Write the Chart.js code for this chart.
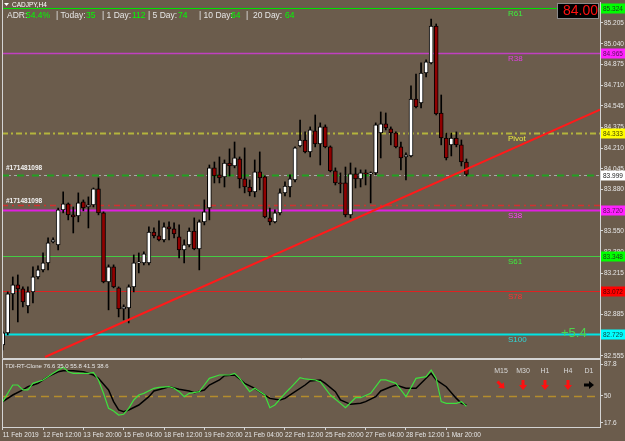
<!DOCTYPE html>
<html>
<head>
<meta charset="utf-8">
<title>CADJPY,H4</title>
<script src="https://cdn.jsdelivr.net/npm/chart.js@4.4.1/dist/chart.umd.min.js"></script>
<style>
  html, body { margin: 0; padding: 0; background: #6b5c4c; }
  #wrap { position: relative; width: 625px; height: 441px; overflow: hidden; background: #6b5c4c; }
  canvas { position: absolute; left: 0; }
  #price { top: 0; }
  #tdi { top: 358px; }
</style>
</head>
<body>
<div id="wrap">
  <canvas id="price" width="625" height="359"></canvas>
  <canvas id="tdi" width="625" height="83"></canvas>
</div>
<script>
// CADJPY H4 candles, 11 Feb 2019 -> 4 Mar 2019
const candleOpen = [
  82.644, 82.739, 83.049, 83.121, 83.089, 82.954, 83.065, 83.184, 83.240, 83.296,
  83.463, 83.439, 83.718, 83.765, 83.678, 83.670, 83.781, 83.741, 83.757, 83.885,
  83.694, 83.145, 83.264, 83.097, 82.930, 82.938, 83.105, 83.296, 83.296, 83.296,
  83.542, 83.511, 83.479, 83.582, 83.566, 83.503, 83.400, 83.439, 83.550, 83.408,
  83.622, 83.733, 84.052, 83.996, 83.980, 84.091, 84.067, 84.123, 83.964, 83.900,
  83.861, 84.020, 83.980, 83.654, 83.622, 83.694, 83.853, 83.900, 83.956, 84.227,
  84.274, 84.179, 84.346, 84.243, 84.378, 84.219, 84.028, 83.932, 83.932, 83.678,
  84.004, 83.964, 84.012, 84.004, 84.012, 84.330, 84.402, 84.362, 84.330, 84.219,
  84.139, 84.147, 84.600, 84.569, 84.807, 84.887, 85.181, 84.489, 84.290, 84.235,
  84.290, 84.235, 84.099
];
const candleHigh = [
  82.747, 83.065, 83.184, 83.200, 83.105, 83.105, 83.264, 83.272, 83.375, 83.495,
  83.495, 83.733, 83.861, 83.773, 83.741, 83.853, 83.797, 83.821, 83.892, 83.972,
  83.702, 83.280, 83.280, 83.105, 82.962, 83.121, 83.359, 83.375, 83.383, 83.582,
  83.574, 83.630, 83.614, 83.622, 83.614, 83.598, 83.479, 83.574, 83.654, 83.638,
  83.797, 84.075, 84.099, 84.139, 84.115, 84.203, 84.258, 84.139, 84.211, 83.956,
  84.115, 84.179, 83.988, 83.733, 83.718, 83.885, 83.940, 83.996, 84.219, 84.433,
  84.338, 84.378, 84.473, 84.410, 84.394, 84.227, 84.052, 84.012, 84.059, 84.091,
  84.052, 84.036, 84.036, 84.020, 84.410, 84.497, 84.489, 84.378, 84.338, 84.258,
  84.171, 84.704, 84.799, 84.887, 84.911, 85.237, 85.197, 84.632, 84.330, 84.330,
  84.338, 84.274, 84.123
];
const candleLow = [
  82.604, 82.723, 82.922, 82.826, 82.946, 82.898, 82.978, 83.169, 83.224, 83.240,
  83.455, 83.400, 83.694, 83.638, 83.534, 83.622, 83.710, 83.574, 83.741, 83.678,
  83.137, 82.922, 83.097, 82.866, 82.842, 82.818, 83.065, 83.216, 83.280, 83.280,
  83.495, 83.471, 83.463, 83.479, 83.495, 83.336, 83.296, 83.423, 83.400, 83.240,
  83.598, 83.638, 83.932, 83.932, 83.900, 83.988, 84.052, 83.892, 83.853, 83.829,
  83.821, 83.877, 83.654, 83.598, 83.614, 83.678, 83.829, 83.821, 83.940, 84.219,
  84.171, 84.139, 84.219, 84.075, 84.211, 84.020, 83.916, 83.853, 83.662, 83.654,
  83.892, 83.900, 83.916, 83.773, 83.996, 84.131, 84.354, 84.235, 84.211, 84.036,
  83.956, 84.139, 84.529, 84.529, 84.775, 84.880, 84.473, 84.235, 84.115, 84.147,
  84.219, 84.067, 83.988
];
const candleClose = [
  82.739, 83.049, 83.121, 83.089, 82.986, 83.065, 83.184, 83.240, 83.296, 83.455,
  83.479, 83.718, 83.765, 83.678, 83.662, 83.773, 83.733, 83.757, 83.885, 83.694,
  83.145, 83.264, 83.105, 82.930, 82.946, 83.105, 83.296, 83.304, 83.367, 83.542,
  83.511, 83.479, 83.582, 83.566, 83.527, 83.400, 83.439, 83.550, 83.408, 83.622,
  83.702, 84.052, 83.988, 83.972, 84.091, 84.067, 84.131, 83.964, 83.900, 83.861,
  84.020, 83.972, 83.662, 83.622, 83.694, 83.853, 83.908, 83.964, 84.211, 84.274,
  84.179, 84.354, 84.243, 84.378, 84.219, 84.028, 83.932, 83.924, 83.678, 84.004,
  83.964, 84.012, 84.004, 84.012, 84.394, 84.402, 84.370, 84.330, 84.219, 84.131,
  84.155, 84.600, 84.537, 84.807, 84.895, 85.181, 84.481, 84.290, 84.131, 84.290,
  84.235, 84.099, 83.999
];

// price axis labels
const priceTicks = [85.205, 85.040, 84.875, 84.710, 84.545, 84.375, 84.210, 84.045, 83.880,
  83.715, 83.550, 83.380, 83.215, 83.050, 82.885, 82.720, 82.555];

// pivot levels
const pivotNames = ['R61', 'R38', 'Pivot', 'S38', 'S61', 'S78', 'S100'];
const pivotPrices = [85.324, 84.965, 84.333, 83.720, 83.348, 83.072, 82.729];

// open orders + current bid
const orderTickets = ['#171481098', '#171481098'];
const orderPrices = [83.999, 83.757];
const bidPrice = 83.999;

// trend line anchors (bar, price)
const trendBars = [8.4, 118.5];
const trendPrices = [82.547, 84.515];

// ADR panel
const adrLabels = ['ADR:', '| Today:', '| 1 Day:', '| 5 Day:', '| 10 Day:', '|  20 Day:'];
const adrValues = ['54.4%', '35', '112', '74', '64', '64'];
const dayChange = '+5.4';

// time axis
const timeTickBars = [0, 8, 16, 24, 32, 40, 48, 56, 64, 72, 80, 88];
const timeLabels = ['11 Feb 2019', '12 Feb 12:00', '13 Feb 20:00', '15 Feb 04:00', '18 Feb 12:00',
  '19 Feb 20:00', '21 Feb 04:00', '22 Feb 12:00', '25 Feb 20:00', '27 Feb 04:00',
  '28 Feb 12:00', '1 Mar 20:00'];

// TDI sub window
const tdiHeader = 'TDI-RT-Clone 76.6 35.0 55.8 41.5 38.6';
const tdiTicks = [17.6, 50, 87.8];
const tdiGreenBars = [0, 2, 3, 4, 5, 6, 8, 10, 12, 13, 14, 17, 18, 19, 20, 21, 22, 23, 24, 25,
  26, 27, 28, 30, 31, 33, 34, 35, 36, 37, 39, 40, 41, 43, 45, 46, 47, 49, 50, 52,
  53, 54, 56, 57, 59, 60, 62, 63, 65, 67, 68, 70, 71, 73, 75, 76, 78, 79, 80, 82,
  84, 85, 86, 87, 88, 90, 91, 92];
const tdiGreenVals = [43.0, 62.8, 62.8, 56.9, 56.9, 64.8, 68.8, 76.7, 83.9, 78.6, 76.7, 76.7, 77.9, 68.8, 53.0, 35.1, 31.9, 27.1, 28.0, 35.1,
  45.0, 50.9, 52.9, 58.9, 60.0, 60.8, 58.9, 54.9, 48.9, 52.9, 54.9, 62.8, 70.7, 74.7, 74.7, 76.7, 70.7, 54.9, 58.9, 50.9,
  35.8, 39.0, 52.9, 58.9, 71.5, 70.0, 68.8, 66.8, 50.9, 41.0, 35.8, 47.7, 47.7, 52.9, 68.8, 68.8, 64.8, 56.9, 48.9, 70.7,
  72.7, 80.7, 70.7, 43.0, 41.0, 41.0, 43.0, 37.5];
const tdiSignalBars = [0, 2, 4, 5, 7, 9, 11, 12, 14, 16, 17, 18, 19, 21, 22, 23, 24, 25, 27, 29,
  30, 32, 33, 35, 37, 38, 40, 41, 43, 44, 46, 47, 48, 50, 52, 53, 55, 56, 58, 60,
  61, 63, 64, 66, 67, 69, 71, 72, 74, 75, 77, 78, 80, 82, 83, 85, 86, 88, 90, 91, 92];
const tdiSignalVals = [43.0, 50.9, 56.9, 60.8, 64.8, 72.7, 78.6, 79.7, 79.7, 78.6, 76.7, 74.7, 70.8, 56.9, 43.0, 33.1, 31.1, 33.1, 39.0, 48.9,
  55.7, 58.9, 60.8, 57.7, 55.7, 53.7, 56.9, 62.8, 68.8, 73.9, 74.7, 70.0, 64.8, 58.9, 50.9, 46.9, 45.0, 46.9, 54.9, 62.8,
  67.6, 68.8, 64.8, 54.9, 45.0, 39.8, 41.0, 43.0, 48.9, 55.7, 60.8, 62.8, 58.9, 58.9, 64.8, 76.7, 68.8, 60.8, 46.9, 41.0, 39.0];
const tdiMid = 50;

// multi timeframe arrows
const tfNames = ['M15', 'M30', 'H1', 'H4', 'D1'];
const tfDirs = ['down-right', 'down', 'down', 'down', 'right'];

// ---------------------------------------------------------------

const FONT = '"Liberation Sans", Arial, sans-serif';
const FRAME = '#d4d4d4';
const TEXT = '#e6e6e6';
Chart.defaults.font.family = FONT;

const X_MIN = -0.14, X_MAX = 118.5;

const pivotStyle = [
  { line: '#00e000', width: 1, dash: [], text: '#3cf03c', box: '#00ff00', boxText: '#1a3a1a' },
  { line: '#c040c0', width: 1.5, dash: [], text: '#e040e0', box: '#ff20ff', boxText: '#5a105a' },
  { line: '#b4b43c', width: 2, dash: [6, 3, 2, 3], text: '#e8e840', box: '#ffff00', boxText: '#4a4a00' },
  { line: '#e020e0', width: 2, dash: [], text: '#ff40ff', box: '#ff20ff', boxText: '#5a105a' },
  { line: '#44cc44', width: 1, dash: [], text: '#3cf03c', box: '#00ff00', boxText: '#1a3a1a' },
  { line: '#dd2222', width: 1, dash: [], text: '#ff3030', box: '#ff0000', boxText: '#500000' },
  { line: '#00e5e5', width: 2, dash: [], text: '#30dada', box: '#00ffff', boxText: '#104848' }
];
const orderStyle = [
  { line: '#22a022', width: 2, dash: [7, 8] },
  { line: '#d03030', width: 1.5, dash: [6, 4, 2, 4] }
];

function hline(ctx, area, y, color, width, dash) {
  ctx.save();
  ctx.strokeStyle = color;
  ctx.lineWidth = width;
  ctx.setLineDash(dash);
  ctx.beginPath();
  ctx.moveTo(area.left, y);
  ctx.lineTo(area.right, y);
  ctx.stroke();
  ctx.restore();
}

const levelsPlugin = {
  id: 'levels',
  beforeDatasetsDraw(chart) {
    const { ctx, chartArea } = chart;
    const y = chart.scales.y;
    ctx.save();
    ctx.beginPath();
    ctx.rect(chartArea.left, chartArea.top, chartArea.right - chartArea.left, chartArea.bottom - chartArea.top);
    ctx.clip();
    pivotPrices.forEach((p, i) => {
      const s = pivotStyle[i];
      hline(ctx, chartArea, Math.round(y.getPixelForValue(p)) + 0.5, s.line, s.width, s.dash);
    });
    hline(ctx, chartArea, Math.round(y.getPixelForValue(bidPrice)) + 0.5, '#a8a8a8', 1, [3, 3]);
    orderPrices.forEach((p, i) => {
      const s = orderStyle[i];
      hline(ctx, chartArea, Math.round(y.getPixelForValue(p)) + 0.5, s.line, s.width, s.dash);
    });
    ctx.restore();
  },
  afterDraw(chart) {
    const { ctx, chartArea } = chart;
    const y = chart.scales.y;
    ctx.save();

    // frame
    ctx.strokeStyle = FRAME;
    ctx.lineWidth = 1;
    ctx.beginPath();
    ctx.moveTo(chartArea.left + 0.5, 0);
    ctx.lineTo(chartArea.left + 0.5, chartArea.bottom + 0.5);
    ctx.lineTo(chartArea.right, chartArea.bottom + 0.5);
    ctx.stroke();

    // symbol caption
    ctx.fillStyle = '#ffffff';
    ctx.beginPath();
    ctx.moveTo(4, 3); ctx.lineTo(9, 3); ctx.lineTo(6.5, 6); ctx.closePath();
    ctx.fill();
    ctx.font = '6.5px ' + FONT;
    ctx.textBaseline = 'middle';
    ctx.textAlign = 'left';
    ctx.fillText('CADJPY,H4', 12, 5);

    // ADR line
    const adrX = [7, 56, 102, 148, 199, 246];
    const adrVX = [26, 86, 132, 178, 231, 285];
    ctx.font = '8.5px ' + FONT;
    adrLabels.forEach((t, i) => {
      ctx.fillStyle = TEXT;
      ctx.fillText(t, adrX[i], 15.5);
      ctx.fillStyle = '#00ff00';
      ctx.fillText(adrValues[i], adrVX[i], 15.5);
    });

    // pivot names and price boxes
    pivotPrices.forEach((p, i) => {
      const s = pivotStyle[i];
      const py = Math.round(y.getPixelForValue(p)) + 0.5;
      ctx.font = '8px ' + FONT;
      ctx.textBaseline = 'top';
      ctx.fillStyle = s.text;
      ctx.fillText(pivotNames[i], 508, py + 1.5);
      ctx.fillStyle = s.box;
      ctx.fillRect(chartArea.right + 1, py - 5, 24, 10);
      ctx.fillStyle = s.boxText;
      ctx.font = '6.5px ' + FONT;
      ctx.textBaseline = 'middle';
      ctx.fillText(p.toFixed(3), chartArea.right + 3, py + 0.5);
    });
    const by = Math.round(y.getPixelForValue(bidPrice)) + 0.5;
    ctx.fillStyle = '#ffffff';
    ctx.fillRect(chartArea.right + 1, by - 5, 24, 10);
    ctx.fillStyle = '#202020';
    ctx.fillText(bidPrice.toFixed(3), chartArea.right + 3, by + 0.5);

    // order tickets
    ctx.font = 'bold 6.5px ' + FONT;
    ctx.fillStyle = '#f4f4f4';
    orderTickets.forEach((t, i) => {
      const oy = y.getPixelForValue(orderPrices[i]);
      ctx.fillText(t, 6, oy - (i === 0 ? 6 : 4));
    });

    // big price box
    ctx.fillStyle = '#000000';
    ctx.fillRect(557, 3, 42, 16);
    ctx.strokeStyle = '#8a8a8a';
    ctx.strokeRect(557.5, 3.5, 41, 15);
    ctx.fillStyle = '#ff1010';
    ctx.font = '14px ' + FONT;
    ctx.textAlign = 'right';
    ctx.fillText(bidPrice.toFixed(2), 598, 11.5);

    // day change
    ctx.fillStyle = '#4cd44c';
    ctx.font = '13px ' + FONT;
    ctx.textAlign = 'left';
    ctx.fillText(dayChange, 561, 333);
    ctx.restore();
  }
};

const bars = candleOpen.map((o, i) => i);
const upColor = i => candleClose[i] >= candleOpen[i] ? '#ffffff' : '#900000';

new Chart(document.getElementById('price'), {
  type: 'bar',
  data: {
    datasets: [
      {
        type: 'line',
        label: 'trend',
        data: trendBars.map((b, i) => ({ x: b, y: trendPrices[i] })),
        borderColor: '#ff1a1a',
        borderWidth: 2,
        pointRadius: 0,
        order: 0
      },
      {
        label: 'body',
        data: bars.map(i => ({ x: i, y: [candleOpen[i], candleClose[i]] })),
        backgroundColor: ctx => upColor(ctx.dataIndex),
        borderColor: '#000000',
        borderWidth: 1,
        borderSkipped: false,
        barThickness: 4,
        minBarLength: 1,
        grouped: false,
        order: 1
      },
      {
        label: 'wick',
        data: bars.map(i => ({ x: i, y: [candleLow[i], candleHigh[i]] })),
        backgroundColor: '#000000',
        barThickness: 1,
        grouped: false,
        order: 2
      }
    ]
  },
  options: {
    responsive: false,
    animation: false,
    layout: { padding: { left: 2, top: 2, right: 0, bottom: 1 } },
    plugins: { legend: { display: false }, tooltip: { enabled: false } },
    scales: {
      x: {
        type: 'linear',
        min: X_MIN,
        max: X_MAX,
        offset: false,
        display: false
      },
      y: {
        position: 'right',
        min: 82.539,
        max: 85.372,
        afterBuildTicks: s => { s.ticks = priceTicks.map(v => ({ value: v })); },
        afterFit: s => { s.width = 25; s.paddingTop = 0; s.paddingBottom = 0; },
        grid: { drawOnChartArea: false, drawTicks: true, tickLength: 3, color: FRAME },
        border: { display: true, color: FRAME },
        ticks: {
          autoSkip: false,
          color: TEXT,
          padding: 1,
          font: { size: 6.5 },
          callback: v => v.toFixed(3)
        }
      }
    }
  },
  plugins: [levelsPlugin]
});

function arrow(ctx, x, y, ang, color) {
  ctx.save();
  ctx.translate(x, y);
  ctx.rotate(ang);
  ctx.fillStyle = color;
  ctx.beginPath();
  ctx.moveTo(-1.5, -5); ctx.lineTo(1.5, -5); ctx.lineTo(1.5, 0); ctx.lineTo(4, 0);
  ctx.lineTo(0, 5); ctx.lineTo(-4, 0); ctx.lineTo(-1.5, 0);
  ctx.closePath();
  ctx.fill();
  ctx.restore();
}

const tdiPlugin = {
  id: 'tdiExtras',
  beforeDatasetsDraw(chart) {
    const { ctx, chartArea } = chart;
    const py = Math.round(chart.scales.y.getPixelForValue(tdiMid)) + 0.5;
    hline(ctx, chartArea, py, '#b48c2c', 1.5, [8, 5]);
  },
  afterDraw(chart) {
    const { ctx, chartArea } = chart;
    ctx.save();
    ctx.strokeStyle = FRAME;
    ctx.lineWidth = 1;
    ctx.strokeRect(chartArea.left + 0.5, chartArea.top + 0.5, chartArea.right - chartArea.left, chartArea.bottom - chartArea.top);
    ctx.fillStyle = TEXT;
    ctx.font = '6px ' + FONT;
    ctx.textBaseline = 'middle';
    ctx.fillText(tdiHeader, 5, 8);

    const cx = [501, 523, 545, 568, 589];
    const angles = { 'down': 0, 'down-right': -Math.PI / 4, 'right': -Math.PI / 2 };
    ctx.textAlign = 'center';
    ctx.font = '7px ' + FONT;
    tfNames.forEach((n, i) => {
      ctx.fillStyle = '#d8d8d8';
      ctx.fillText(n, cx[i], 13);
      arrow(ctx, cx[i], 27, angles[tfDirs[i]], tfDirs[i] === 'right' ? '#000000' : '#ff1010');
    });
    ctx.restore();
  }
};

new Chart(document.getElementById('tdi'), {
  type: 'line',
  data: {
    datasets: [
      {
        label: 'price line',
        data: tdiGreenBars.map((b, i) => ({ x: b, y: tdiGreenVals[i] })),
        borderColor: '#3ee03e',
        borderWidth: 1.2,
        pointRadius: 0,
        tension: 0
      },
      {
        label: 'signal',
        data: tdiSignalBars.map((b, i) => ({ x: b, y: tdiSignalVals[i] })),
        borderColor: '#000000',
        borderWidth: 1.5,
        pointRadius: 0,
        tension: 0
      }
    ]
  },
  options: {
    responsive: false,
    animation: false,
    layout: { padding: { left: 2, top: 1, right: 0, bottom: 0 } },
    plugins: { legend: { display: false }, tooltip: { enabled: false } },
    scales: {
      x: {
        type: 'linear',
        min: X_MIN,
        max: X_MAX,
        offset: false,
        afterBuildTicks: s => { s.ticks = timeTickBars.map(v => ({ value: v })); },
        afterFit: s => { s.height = 14; s.paddingLeft = 0; s.paddingRight = 0; },
        grid: { drawOnChartArea: false, drawTicks: true, tickLength: 3, color: FRAME },
        border: { display: true, color: FRAME },
        ticks: {
          autoSkip: false,
          maxRotation: 0,
          align: 'start',
          color: TEXT,
          padding: 1,
          font: { size: 6.5 },
          callback: v => timeLabels[timeTickBars.indexOf(v)] || ''
        }
      },
      y: {
        position: 'right',
        min: 12.84,
        max: 93.75,
        afterBuildTicks: s => { s.ticks = tdiTicks.map(v => ({ value: v })); },
        afterFit: s => { s.width = 25; s.paddingTop = 0; s.paddingBottom = 0; },
        grid: { drawOnChartArea: false, drawTicks: true, tickLength: 3, color: FRAME },
        border: { display: true, color: FRAME },
        ticks: {
          autoSkip: false,
          color: TEXT,
          padding: 1,
          font: { size: 6.5 },
          callback: v => String(v)
        }
      }
    }
  },
  plugins: [tdiPlugin]
});
</script>
</body>
</html>
